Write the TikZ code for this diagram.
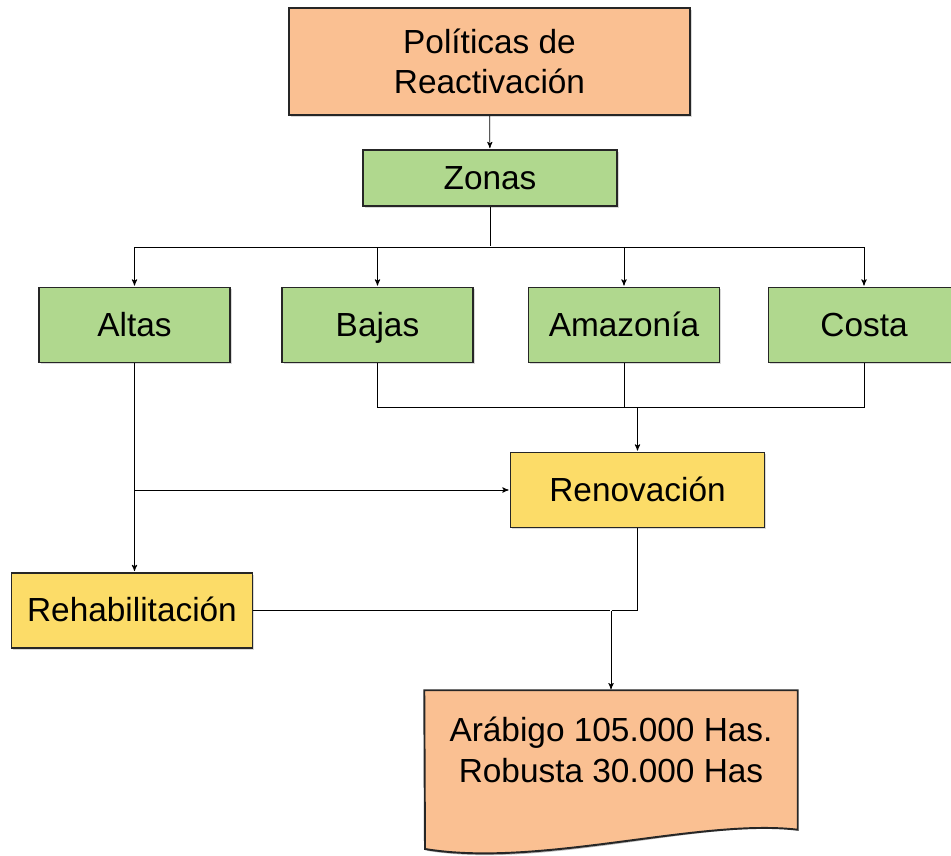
\documentclass[tikz,border=0pt]{standalone}
\usepackage{fontspec}
\setmainfont{Liberation Sans}
\usepackage{tikz}
\usetikzlibrary{arrows,shadows,backgrounds}

\definecolor{peach}{RGB}{250,192,146}
\definecolor{leaf}{RGB}{176,216,142}
\definecolor{gold}{RGB}{252,220,104}

\begin{document}
\begin{tikzpicture}[>=stealth',shorten >=0.5pt,line width=0.85pt,
    base node/.style={rectangle,draw=black!85,line width=1.1pt,align=center,
      font=\fontsize{19}{23}\selectfont,inner sep=2pt,
      drop shadow={shadow xshift=1pt,shadow yshift=-1pt,opacity=0.3}},
    orange node/.style={base node,fill=peach},
    one line/.style={text height=16pt,text depth=3pt},
    green node/.style={base node,one line,fill=leaf,minimum width=3.82cm,minimum height=1.5cm},
    yellow node/.style={base node,one line,fill=gold,minimum height=1.5cm}]

  \useasboundingbox (0,0) rectangle (19.02,-17.12);

  \node[orange node,minimum width=8.02cm,minimum height=2.14cm] (pol) at (9.79,-1.23) {Políticas de\\Reactivación};
  \node[green node,minimum width=5.08cm,minimum height=1.12cm]  (zon) at (9.8,-3.56) {Zonas};
  \node[green node]  (alt) at (2.69,-6.5)  {Altas};
  \node[green node]  (baj) at (7.55,-6.5)  {Bajas};
  \node[green node]  (ama) at (12.48,-6.5) {Amazonía};
  \node[green node]  (cos) at (17.28,-6.5) {Costa};
  \node[yellow node,minimum width=5.08cm] (ren) at (12.75,-9.8)  {Renovación};
  \node[yellow node,minimum width=4.82cm] (reh) at (2.64,-12.21) {Rehabilitación};

  % documento final con borde ondulado
  \node[font=\fontsize{19}{23}\selectfont,align=center,minimum width=7.44cm,minimum height=2.36cm] (res) at (12.22,-15.0) {Arábigo 105.000 Has.\\Robusta 30.000 Has};
  \begin{pgfonlayer}{background}
  \fill[black,opacity=0.3,xshift=1pt,yshift=-1pt] (res.north west) -- (res.north east) -- (res.south east) -- ++(0,-0.4)
     .. controls (14.0,-16.36) and (10.8,-17.36) .. (8.5,-16.98) -- cycle;
  \draw[fill=peach,draw=black!85,line width=1.1pt] (res.north west) -- (res.north east) -- (res.south east) -- ++(0,-0.4)
     .. controls (14.0,-16.36) and (10.8,-17.36) .. (8.5,-16.98) -- cycle;
  \end{pgfonlayer}

  \coordinate (zb) at (9.8,-4.94);
  \coordinate (bb) at (12.75,-8.14);
  \coordinate (jn) at (res.north |- reh.east);

  \draw[->] (pol) -- (zon);
  \draw (zon.south) -- (zb);
  \foreach \n in {alt,baj,ama,cos}
    \draw[->] (zb) -| (\n.north);
  \foreach \n in {baj,ama,cos}
    \draw (\n.south) |- (bb);
  \draw[->] (bb) -- (ren.north);
  \draw[->] (alt.south) -- (alt.south |- reh.north);
  \draw[->] (alt.south |- ren.west) -- (ren.west);
  \draw (ren.south) |- (jn);
  \draw (reh.east) -- (jn);
  \draw[->] (jn) -- (res.north);

\end{tikzpicture}
\end{document}
